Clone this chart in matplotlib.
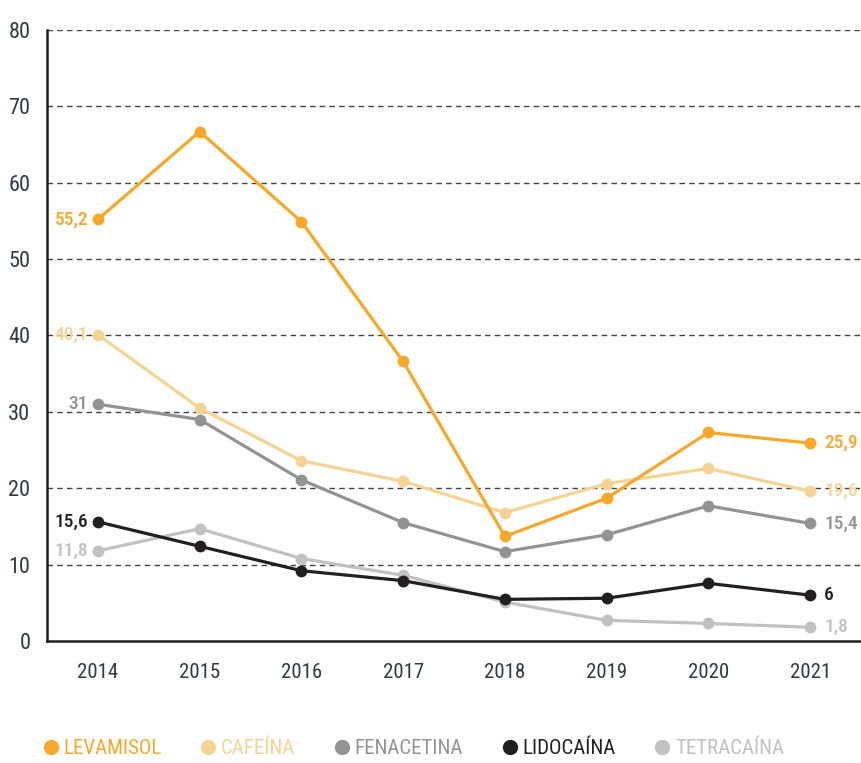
import matplotlib.pyplot as plt
import numpy as np

plt.rcParams['font.family'] = ['Liberation Sans Narrow', 'Roboto Condensed', 'DejaVu Sans']

years = ["2014", "2015", "2016", "2017", "2018", "2019", "2020", "2021"]
levamisol = [55.2, 66.7, 54.9, 36.6, 13.7, 18.7, 27.3, 25.9]
cafeina = [40.1, 30.5, 23.6, 20.9, 16.8, 20.6, 22.6, 19.6]
fenacetina = [31, 29.0, 21.1, 15.5, 11.7, 13.9, 17.7, 15.4]
lidocaina = [15.6, 12.4, 9.2, 7.9, 5.45, 5.6, 7.55, 6]
tetracaina = [11.8, 14.7, 10.8, 8.6, 5.1, 2.7, 2.3, 1.8]

names = ["LEVAMISOL", "CAFEÍNA", "FENACETINA", "LIDOCAÍNA", "TETRACAÍNA"]
series = [levamisol, cafeina, fenacetina, lidocaina, tetracaina]
colors = ["#F8A829", "#F5D493", "#939396", "#231F20", "#C1C1C3"]
# labels shown at the ends
first_labels = ["55,2", "40,1", "31", "15,6", "11,8"]
last_labels = ["25,9", "19,6", "15,4", "6", "1,8"]
zorders = [6, 4, 3, 5, 2]

fig = plt.figure(figsize=(8.61, 7.63), dpi=100)
ax = fig.add_axes([0.0546, 0.1599, 0.9454, 0.8008])

x = np.arange(len(years))
for name, vals, c, fl, ll, z in zip(names, series, colors, first_labels, last_labels, zorders):
    ax.plot(x, vals, color=c, lw=2.3, marker='o', ms=7.5, zorder=z, label=name)
    ax.annotate(fl, (x[0], vals[0]), xytext=(-7, 0), textcoords='offset points',
                ha='right', va='center', color=c, fontsize=14, fontweight='medium')
    ax.annotate(ll, (x[-1], vals[-1]), xytext=(10, 0), textcoords='offset points',
                ha='left', va='center', color=c, fontsize=14, fontweight='medium')

ax.set_xlim(-0.5, 7.5)
ax.set_ylim(0, 80)
ax.set_yticks(np.arange(0, 81, 10))
ax.set_xticks(x)
ax.set_xticklabels(years)
ax.tick_params(length=0, labelsize=15, colors="#2F3A45")
ax.tick_params(axis='y', pad=12, labelsize=16)
ax.tick_params(axis='x', pad=16)

for yv in range(10, 81, 10):
    ax.axhline(yv, color="#444444", lw=1, ls=(0, (4, 3)), zorder=1)

for s in ['top', 'right']:
    ax.spines[s].set_visible(False)
ax.spines['left'].set_linewidth(1.8)
ax.spines['bottom'].set_linewidth(1.8)
ax.spines['left'].set_color("#231F20")
ax.spines['bottom'].set_color("#231F20")

leg_handles = [plt.Line2D([], [], ls='none', marker='o', ms=10, color=c) for c in colors]
leg = fig.legend(leg_handles, names, loc='lower left', bbox_to_anchor=(0.025, -0.018),
                 ncol=5, frameon=False, fontsize=15, handletextpad=0.1,
                 columnspacing=1.75, handlelength=1.0)
for t, c in zip(leg.get_texts(), colors):
    t.set_color(c)

plt.savefig("out.png", dpi=100)
plt.close()
